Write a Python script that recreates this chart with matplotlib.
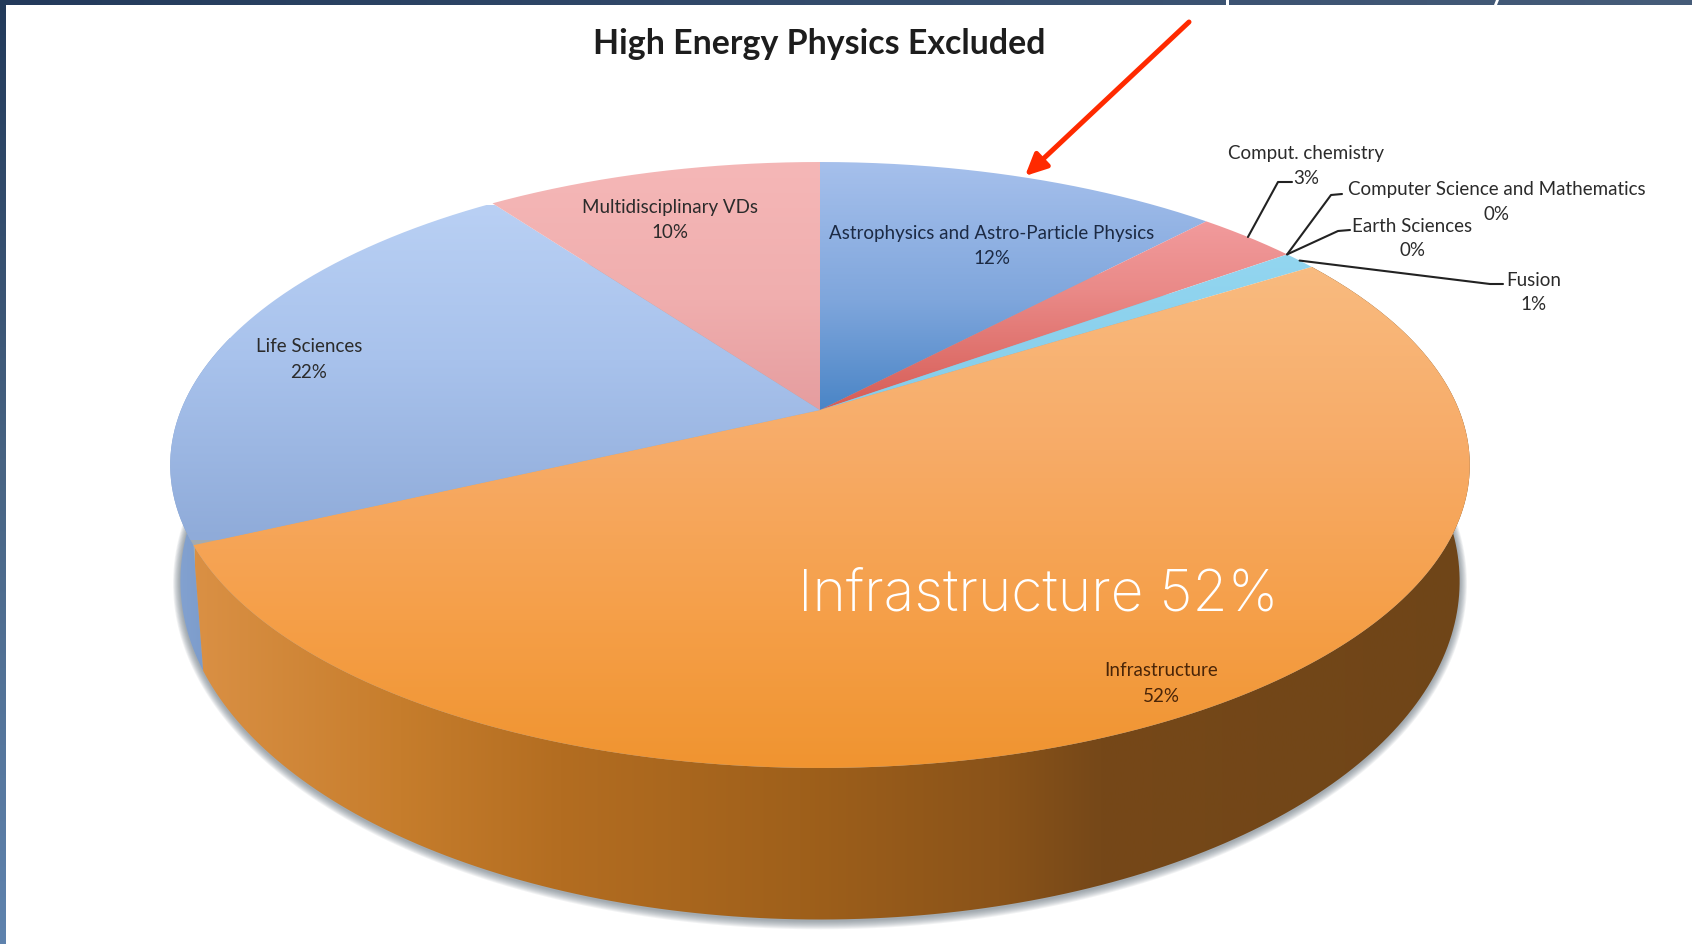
"""3D pie of resource usage by discipline, high energy physics excluded."""

import numpy as np
import matplotlib

matplotlib.use("Agg")
import matplotlib.pyplot as plt
from matplotlib.colors import to_rgb
from matplotlib.patches import PathPatch, Polygon
from matplotlib.path import Path

labels = [
    "Astrophysics and Astro-Particle Physics",
    "Comput. chemistry",
    "Computer Science and Mathematics",
    "Earth Sciences",
    "Fusion",
    "Infrastructure",
    "Life Sciences",
    "Multidisciplinary VDs",
]
shares = [12, 3, 0, 0, 1, 52, 22, 10]

WIDTH, HEIGHT = 1692, 944

# perspective of the disc: apex position, tilt and the two rims
CX = 820
TILT = 0.1815
TOP_RIM = dict(radius=639, apex_y=410, depth=293)
LOW_RIM = dict(radius=629, apex_y=520, depth=327)

top_face_colors = {
    "Astrophysics and Astro-Particle Physics": [(162, "#a6c0ec"), (300, "#7fa6dc"), (410, "#4a85c6")],
    "Comput. chemistry": [(215, "#f29c9e"), (290, "#ea8a88"), (410, "#d65c55")],
    "Fusion": [(250, "#93d6f0"), (410, "#86cdea")],
    "Infrastructure": [(262, "#f9bb80"), (450, "#f7ab67"), (620, "#f59f48"), (768, "#f09430")],
    "Life Sciences": [(205, "#b9d0f4"), (360, "#a8c2ec"), (540, "#8fabd9")],
    "Multidisciplinary VDs": [(162, "#f5b7b7"), (300, "#f0aeae"), (410, "#e59d9f")],
}
side_colors = {
    "Infrastructure": [(195, "#da9044"), (400, "#c67d2c"), (560, "#b36d21"), (800, "#9f601b"),
                       (1000, "#8a5319"), (1100, "#764818"), (1470, "#6f4518")],
    "Life Sciences": [(170, "#86a4d2"), (230, "#7496c6")],
}

# where each label sits: name line, then percentage line
label_spots = {
    "Astrophysics and Astro-Particle Physics": (992, 233, 258),
    "Comput. chemistry": (1306, 153, 179),
    "Computer Science and Mathematics": (1497, 190, 215),
    "Earth Sciences": (1412, 226, 251),
    "Fusion": (1534, 280, 305),
    "Infrastructure": (1161, 670, 696),
    "Life Sciences": (309, 346, 372),
    "Multidisciplinary VDs": (670, 208, 233),
}
# leader lines, from the slice rim out to the label
leader_elbows = {
    "Comput. chemistry": [(1278, 182), (1292, 182)],
    "Computer Science and Mathematics": [(1331, 195), (1342, 194)],
    "Earth Sciences": [(1338, 231), (1350, 230)],
    "Fusion": [(1490, 284), (1503, 284)],
}


def project(pct, radius, apex_y, depth):
    """Map a percentage around the disc (clockwise from the top) to pixels."""
    theta = np.radians(np.asarray(pct, dtype=float) * 3.6)
    u, v = np.sin(theta), np.cos(theta)
    w = 1 + TILT * v
    return CX + radius * u / w, apex_y - depth * v / w


def gradient_fill(ax, verts, stops, axis="y", zorder=2):
    """Fill a polygon with a piecewise linear gradient along x or y."""
    verts = np.asarray(verts)
    pos = [s[0] for s in stops]
    rgb = np.array([to_rgb(s[1]) for s in stops])
    ramp = np.linspace(pos[0], pos[-1], 400)
    img = np.stack([np.interp(ramp, pos, rgb[:, i]) for i in range(3)], axis=-1)
    if axis == "y":
        img = img[:, None, :]
        extent = (verts[:, 0].min() - 2, verts[:, 0].max() + 2, pos[-1], pos[0])
    else:
        img = img[None, :, :]
        extent = (pos[0], pos[-1], verts[:, 1].max() + 2, verts[:, 1].min() - 2)
    im = ax.imshow(img, extent=extent, aspect="auto", zorder=zorder, interpolation="bilinear")
    clip = PathPatch(Path(verts), transform=ax.transData, facecolor="none", edgecolor="none")
    ax.add_patch(clip)
    im.set_clip_path(clip)
    return im


fig = plt.figure(figsize=(WIDTH / 100, HEIGHT / 100), dpi=100)
ax = fig.add_axes([0, 0, 1, 1])
ax.axis("off")

# soft shadow under the lower rim
ring = np.linspace(0, 100, 361)
for grow in np.arange(9, 0, -1):
    sx, sy = project(ring, LOW_RIM["radius"] + grow * 0.8, LOW_RIM["apex_y"] + 1, LOW_RIM["depth"] + grow * 0.8)
    ax.add_patch(Polygon(np.column_stack([sx, sy]), closed=True, facecolor="#5f6c78",
                         edgecolor="none", alpha=0.085, zorder=1))

edges = np.cumsum([0] + shares)

# outer wall first, so the front slice covers the back ones
for name in ["Life Sciences", "Infrastructure"]:
    i = labels.index(name)
    arc = np.linspace(edges[i], edges[i + 1], 200)
    tx, ty = project(arc, **TOP_RIM)
    lx, ly = project(arc, **LOW_RIM)
    wall = np.column_stack([np.r_[tx, lx[::-1]], np.r_[ty, ly[::-1]]])
    gradient_fill(ax, wall, side_colors[name], axis="x", zorder=2 + 0.1 * (name == "Infrastructure"))

# top face, one wedge per slice
for i, name in enumerate(labels):
    if shares[i] == 0:
        continue
    arc = np.linspace(edges[i], edges[i + 1], 200)
    tx, ty = project(arc, **TOP_RIM)
    wedge = np.column_stack([np.r_[CX, tx], np.r_[TOP_RIM["apex_y"], ty]])
    gradient_fill(ax, wedge, top_face_colors[name], zorder=3)

# slice labels and leaders
for i, name in enumerate(labels):
    x, y_name, y_pct = label_spots[name]
    color = "#1c2a44" if i == 0 else "#4a2508" if name == "Infrastructure" else "#2b2b2b"
    ax.text(x, y_name, name, ha="center", va="center", fontsize=13.5, family="Lato",
            color=color, zorder=5)
    ax.text(x, y_pct, f"{shares[i]}%", ha="center", va="center", fontsize=13.5, family="Lato",
            color=color, zorder=5)
    if name in leader_elbows:
        sx, sy = project((edges[i] + edges[i + 1]) / 2, **TOP_RIM)
        path = [(float(sx), float(sy))] + leader_elbows[name]
        ax.plot(*zip(*path), color="#222222", lw=1.5, zorder=4.5, solid_capstyle="round")

ax.text(819, 44, "High Energy Physics Excluded", ha="center", va="center", fontsize=24.4,
        fontweight="bold", family="Lato", color="#1d1d1d", zorder=5)
ax.text(798, 610, "Infrastructure 52%", ha="left", va="baseline", fontsize=41,
        fontweight="light", family="Inter", color="white", zorder=6)

# red pointer to the astrophysics slice
ax.annotate("", xy=(1025, 176), xytext=(1189, 22), zorder=7,
            arrowprops=dict(arrowstyle="-|>,head_length=1.3,head_width=0.62", color="#ff2a00",
                            lw=3.6, shrinkA=0, shrinkB=0))

# slide frame: dark bars along the top and left edges
top_bar = gradient_fill(ax, [(0, 0), (WIDTH, 0), (WIDTH, 5), (0, 5)],
                        [(0, "#233a5b"), (900, "#354d6d"), (WIDTH, "#465c79")], axis="x", zorder=8)
left_bar = gradient_fill(ax, [(0, 0), (6, 0), (6, HEIGHT), (0, HEIGHT)],
                         [(0, "#223a5a"), (470, "#486483"), (HEIGHT, "#5f83ae")], zorder=8)
ax.add_patch(Polygon([(1226, 0), (1229, 0), (1229, 5), (1226, 5)], facecolor="white", edgecolor="none", zorder=9))
ax.add_patch(Polygon([(1496, 0), (1499, 0), (1497, 5), (1494, 5)], facecolor="white", edgecolor="none", zorder=9))

ax.set_xlim(0, WIDTH)
ax.set_ylim(HEIGHT, 0)

fig.savefig("out.png", dpi=100, facecolor="white")
